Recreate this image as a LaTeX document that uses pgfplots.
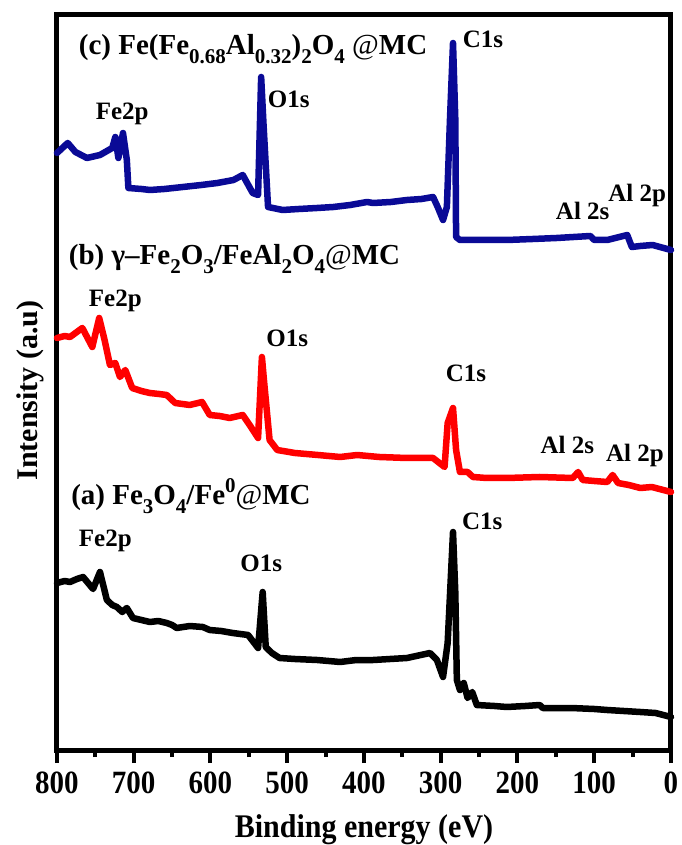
\documentclass[border=0pt]{standalone}
\usepackage{fontspec}
\setmainfont{Liberation Serif}
\usepackage{pgfplots}
\pgfplotsset{compat=1.18}
\definecolor{cblue}{RGB}{10,10,150}
\newcommand{\sub}[1]{\raisebox{-0.28em}{\fontsize{21}{21}\selectfont #1}}
\newcommand{\sups}[1]{\raisebox{0.42em}{\fontsize{21}{21}\selectfont #1}}
\newcommand{\pk}{\fontsize{25}{28}\selectfont\bfseries}
\newcommand{\pn}{\fontsize{29}{32}\selectfont\bfseries}

\begin{document}
\begin{tikzpicture}
\begin{axis}[
  scale only axis, width=614pt, height=735pt,
  xmin=0, xmax=800, ymin=13, ymax=748, x dir=reverse,
  axis line style={line width=5pt},
  xtick={0,100,...,800}, minor x tick num=1,
  ytick=\empty, xtick pos=bottom, tick align=outside,
  major tick length=13pt, minor tick length=7pt,
  every tick/.append style={line width=4pt, black},
  tick label style={font=\fontsize{29}{30}\selectfont\bfseries},
  xticklabel style={yshift=-5pt},
  xticklabel={\scalebox{1}[1.12]{\pgfmathprintnumber{\tick}}},
  /pgf/number format/assume math mode=true,
  xlabel={\scalebox{1}[1.1]{Binding energy (eV)}}, ylabel={Intensity (a.u)},
  label style={font=\fontsize{30}{30}\selectfont\bfseries},
  xlabel style={at={([yshift=-80pt]axis description cs:0.5,0)}, anchor=center},
  ylabel style={at={([xshift=-27pt,yshift=-8pt]axis description cs:0,0.5)}, anchor=center},
  every axis plot/.append style={line width=6.5pt, line join=round, line cap=round},
  clip=false,
]
% (a) Fe3O4/Fe0@MC
\addplot[black] coordinates {
(800,180) (790,182) (783,181) (774,184) (766,186) (753,174) (744,191) (735,163)
(728,158) (722,156) (715,151) (709,155) (701,145) (690,143) (679,141) (668,142)
(657,140) (650,138) (644,135) (627,137) (610,136) (601,133) (586,132) (571,130)
(551,128) (538,115) (532,171) (528,116) (520,110) (510,105) (490,104) (461,103)
(431,101) (410,103) (388,103) (366,104) (344,105) (314,110) (305,103) (297,86)
(291,120) (284,231) (281,170) (279,83) (275,73) (270,80) (265,65) (259,71)
(253,58) (230,57) (214,56) (190,57) (171,58) (167,55) (130,55) (100,54) (83,53)
(40,51) (20,50) (0,46)};
% (b) gamma-Fe2O3/FeAl2O4@MC
\addplot[red] coordinates {
(800,425) (790,427) (783,426) (767,435) (754,416) (745,445) (738,423) (731,398)
(724,400) (718,386) (711,393) (702,375) (690,372) (679,370) (667,369) (657,368)
(646,360) (627,358) (611,361) (601,348) (588,347) (575,345) (558,348) (549,338)
(538,325) (533,406) (530,380) (523,323) (513,313) (490,310) (460,308) (431,306)
(409,308) (380,306) (344,305) (310,305) (295,296) (291,340) (284,355) (280,313)
(275,291) (265,291) (258,286) (240,285) (214,285) (171,286) (128,285) (121,291)
(115,283) (100,282) (83,281) (76,288) (69,280) (55,278) (40,275) (25,276) (0,271)};
% (c) Fe(Fe0.68Al0.32)2O4@MC
\addplot[cblue] coordinates {
(800,610) (786,620) (776,611) (761,605) (744,608) (728,615) (724,626) (720,605)
(714,630) (709,603) (707,575) (690,574) (679,573) (660,574) (636,576) (612,578)
(591,580) (570,583) (558,588) (545,570) (538,568) (534,686) (531,640) (525,556)
(506,553) (485,554) (461,555) (440,556) (418,558) (396,561) (388,560) (365,561)
(344,563) (325,564) (310,566) (304,556) (297,543) (292,556) (288,643) (284,720)
(281,643) (280,526) (275,523) (245,523) (214,523) (180,524) (149,525) (105,527)
(100,523) (83,523) (57,528) (51,516) (40,517) (24,518) (0,513)};

% panel labels
\node[anchor=base west, font=\pn] at (axis cs:776,708)
  {(c) Fe(Fe\sub{0.68}Al\sub{0.32})\sub{2}O\sub{4} {\mdseries @}MC};
\node[anchor=base west, font=\pn] at (axis cs:789,498)
  {(b) γ–Fe\sub{2}O\sub{3}/FeAl\sub{2}O\sub{4}{\mdseries @}MC};
\node[anchor=base west, font=\pn] at (axis cs:786,258)
  {(a) Fe\sub{3}O\sub{4}/Fe\sups{0}{\mdseries @}MC};

% peak labels
\node[anchor=base, font=\pk] at (axis cs:715,643) {Fe2p};
\node[anchor=base, font=\pk] at (axis cs:498,655) {O1s};
\node[anchor=base, font=\pk] at (axis cs:245,715) {C1s};
\node[anchor=base, font=\pk] at (axis cs:115,543) {Al 2s};
\node[anchor=base, font=\pk] at (axis cs:44,561) {Al 2p};

\node[anchor=base, font=\pk] at (axis cs:724,456) {Fe2p};
\node[anchor=base, font=\pk] at (axis cs:500,416) {O1s};
\node[anchor=base, font=\pk] at (axis cs:267,381) {C1s};
\node[anchor=base, font=\pk] at (axis cs:135,309) {Al 2s};
\node[anchor=base, font=\pk] at (axis cs:47,301) {Al 2p};

\node[anchor=base, font=\pk] at (axis cs:737,216) {Fe2p};
\node[anchor=base, font=\pk] at (axis cs:534,191) {O1s};
\node[anchor=base, font=\pk] at (axis cs:246,233) {C1s};
\end{axis}
\pgfresetboundingbox
\useasboundingbox (-57pt,-95pt) rectangle (624pt,750pt);
\end{tikzpicture}
\end{document}
